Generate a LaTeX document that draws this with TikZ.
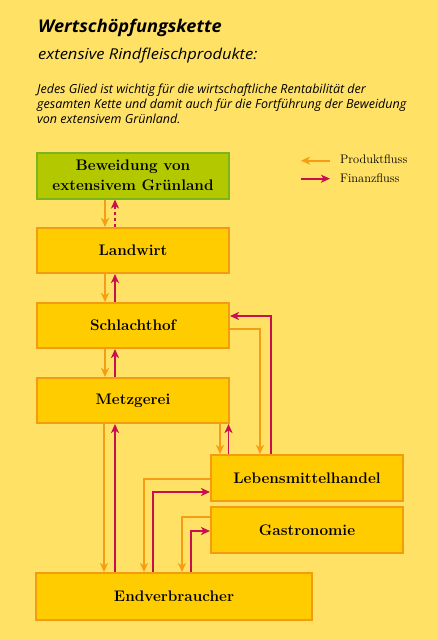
\documentclass[tikz,border=0pt]{standalone}
\usepackage{fontspec}
\usetikzlibrary{arrows.meta}
\newfontfamily\hdr{Open Sans}
\newfontfamily\hdrtitle[FakeStretch=1.04]{Open Sans}
\newfontfamily\hdrsub[FakeStretch=1.1]{Open Sans}
\definecolor{bgc}{RGB}{255,225,102}
\definecolor{boxf}{RGB}{255,204,0}
\definecolor{boxd}{RGB}{243,156,18}
\definecolor{grnf}{RGB}{180,200,0}
\definecolor{grnd}{RGB}{122,181,29}
\definecolor{prodc}{RGB}{245,158,20}
\definecolor{finc}{RGB}{200,16,78}
\tikzset{
  stagebox/.style={draw=boxd, fill=boxf, line width=2pt, minimum width=192pt, minimum height=45pt, inner sep=0pt, align=center, font=\fontsize{15.3}{19.5}\selectfont\bfseries},
  greenbox/.style={stagebox, draw=grnd, fill=grnf},
  tipx/.tip={Stealth[length=9pt,width=8pt,inset=2.5pt]},
  prod/.style={draw=prodc, line width=1.9pt, -tipx},
  fin/.style={draw=finc, line width=1.9pt, -tipx},
  legtext/.style={anchor=base west, inner sep=0pt, font=\fontsize{12.4}{14}\selectfont},
}
\begin{document}
\begin{tikzpicture}[x=1pt,y=-1pt]
\fill[bgc] (0,0) rectangle (438,640);
\useasboundingbox (0,0) rectangle (438,640);
% header
\node[anchor=base west, inner sep=0pt, font=\hdrtitle\bfseries\itshape\fontsize{17.5}{20}\selectfont] (title) at (38,32.7) {Wertschöpfungskette};
\node[anchor=base west, inner sep=0pt, font=\hdrsub\itshape\fontsize{15}{18}\selectfont] (sub) at (38,59.3) {extensive Rindfleischprodukte:};
\node[anchor=base west, inner sep=0pt, align=left, font=\hdr\itshape\fontsize{12.5}{15}\selectfont] (para) at (37,123.3) {Jedes Glied ist wichtig für die wirtschaftliche Rentabilität der\\gesamten Kette und damit auch für die Fortführung der Beweidung\\von extensivem Grünland.};
% legend
\coordinate (lp1) at (330,160.7); \coordinate (lp2) at (301,160.7);
\coordinate (lf1) at (301,178.7); \coordinate (lf2) at (330,178.7);
\draw[prod] (lp1) -- (lp2);
\draw[fin] (lf1) -- (lf2);
\node[legtext] (lptext) at (340,163.3) {Produktfluss};
\node[legtext] (lftext) at (340,182.3) {Finanzfluss};
% boxes
\node[greenbox, minimum height=46pt] (bew) at (133,175.5) {Beweidung von\\extensivem Grünland};
\node[stagebox] (land) at (133,250.5) {Landwirt};
\node[stagebox] (schl) at (133,325.5) {Schlachthof};
\node[stagebox] (metz) at (133,400.5) {Metzgerei};
\node[stagebox, minimum height=46pt] (leb) at (307,478) {Lebensmittelhandel};
\node[stagebox, minimum height=46pt] (gast) at (307,530) {Gastronomie};
\node[stagebox, minimum width=276pt, minimum height=47pt] (end) at (174,596.5) {Endverbraucher};
% vertical chain
\draw[prod] ([xshift=-28pt]bew.south) -- ([xshift=-28pt]land.north);
\draw[fin, dash pattern=on 3.5pt off 2.5pt] ([xshift=-18pt]land.north) -- ([xshift=-18pt]bew.south);
\draw[prod] ([xshift=-28pt]land.south) -- ([xshift=-28pt]schl.north);
\draw[fin] ([xshift=-18pt]schl.north) -- ([xshift=-18pt]land.south);
\draw[prod] ([xshift=-28pt]schl.south) -- ([xshift=-28pt]metz.north);
\draw[fin] ([xshift=-18pt]metz.north) -- ([xshift=-18pt]schl.south);
% Metzgerei - Endverbraucher
\draw[prod] ([xshift=-29pt]metz.south) -- ([xshift=-29pt]metz.south |- end.north);
\draw[fin] ([xshift=-18pt]metz.south |- end.north) -- ([xshift=-18pt]metz.south);
% Metzgerei - Lebensmittelhandel
\draw[prod] ([xshift=87pt]metz.south) -- ([xshift=87pt]metz.south |- leb.north);
\draw[fin] ([xshift=95.5pt]metz.south |- leb.north) -- ([xshift=95.5pt]metz.south);
% Schlachthof - Lebensmittelhandel
\draw[prod] ([yshift=-3.5pt]schl.east) -| ([xshift=-47pt]leb.north);
\draw[fin] ([xshift=-36pt]leb.north) |- ([yshift=9.5pt]schl.east);
% Lebensmittelhandel - Endverbraucher
\draw[prod] ([yshift=-1pt]leb.west) -| ([xshift=-30pt]end.north);
\draw[fin] ([xshift=-21pt]end.north) |- ([yshift=-14pt]leb.west);
% Gastronomie - Endverbraucher
\draw[prod] ([yshift=13pt]gast.west) -| ([xshift=8pt]end.north);
\draw[fin] ([xshift=17pt]end.north) |- ([yshift=-1pt]gast.west);
\end{tikzpicture}
\end{document}
